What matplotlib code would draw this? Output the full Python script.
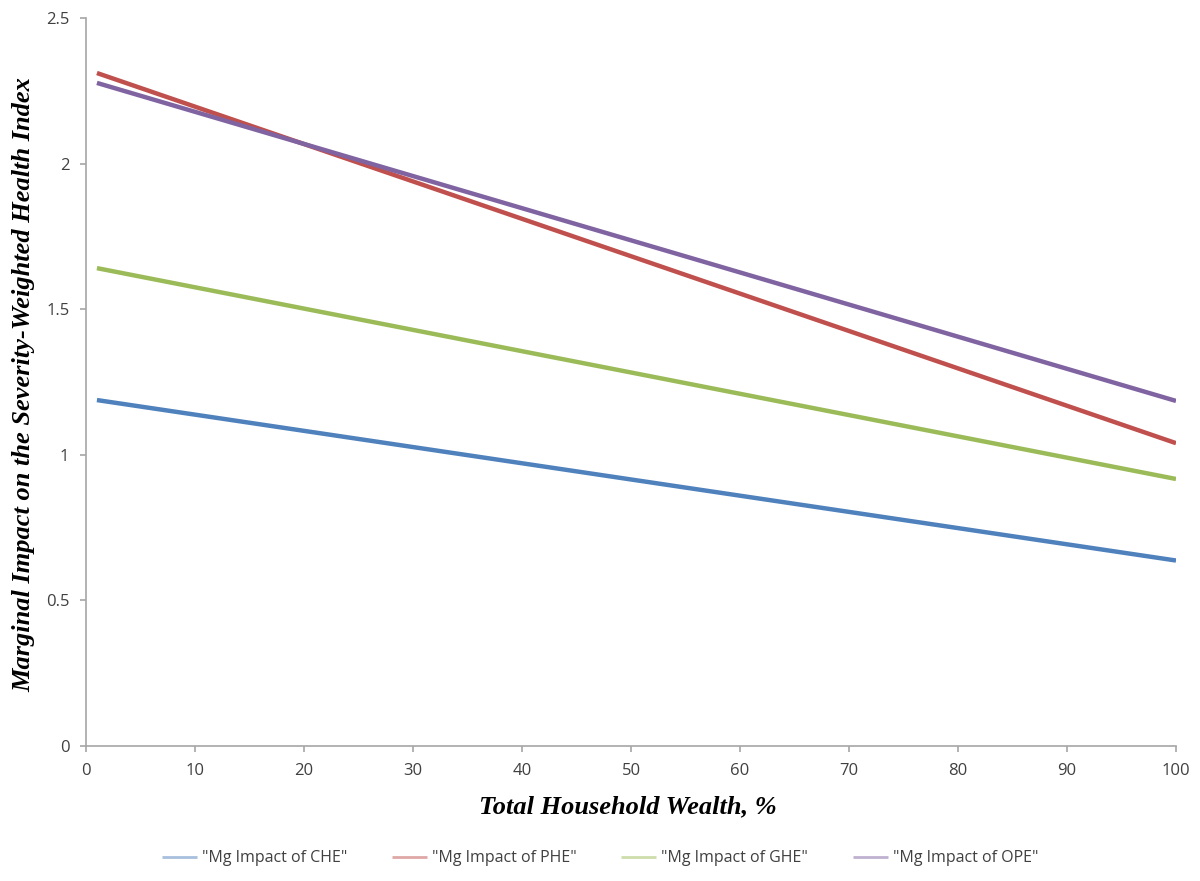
import matplotlib
matplotlib.use("Agg")
import matplotlib.pyplot as plt

# wealth percentiles (lines are straight, so endpoints are enough)
wealth = [1, 100]
che = [1.188, 0.637]
phe = [2.311, 1.040]
ghe = [1.641, 0.917]
ope = [2.277, 1.185]

labels = ['"Mg Impact of CHE"', '"Mg Impact of PHE"', '"Mg Impact of GHE"', '"Mg Impact of OPE"']
colors = ['#4F81BD', '#C0504D', '#9BBB59', '#8064A2']

fig = plt.figure(figsize=(12, 8.81), dpi=100)
ax = fig.add_axes([0.0717, 0.1532, 0.9083, 0.8264])

for ys, lab, c in zip([che, phe, ghe, ope], labels, colors):
    ax.plot(wealth, ys, color=c, lw=3.2, label=lab, solid_capstyle='butt')

ax.set_xlim(0, 100)
ax.set_ylim(0, 2.5)
ax.set_xticks(range(0, 101, 10))
ax.set_yticks([0, 0.5, 1, 1.5, 2, 2.5])
ax.set_yticklabels(['0', '0.5', '1', '1.5', '2', '2.5'])

for s in ['top', 'right']:
    ax.spines[s].set_visible(False)
for s in ['left', 'bottom']:
    ax.spines[s].set_color('#a6a6a6')
    ax.spines[s].set_linewidth(1.2)
ax.tick_params(colors='#a6a6a6', length=4, width=1.2, labelcolor='#404040', labelsize=12, pad=8)
for t in ax.get_xticklabels() + ax.get_yticklabels():
    t.set_family('Open Sans')

ax.set_xlabel('Total Household Wealth, %', family='Liberation Serif', fontsize=19,
              fontweight='bold', style='italic', va='center')
ax.set_ylabel('Marginal Impact on the Severity-Weighted Health Index', family='Liberation Serif',
              fontsize=19, fontweight='bold', style='italic', va='center')
ax.xaxis.set_label_coords(0.497, -0.083)
ax.yaxis.set_label_coords(-0.057, 0.497)

leg = fig.legend(loc='center', bbox_to_anchor=(0.5, 0.026), ncol=4, frameon=False,
                 prop={'family': 'Open Sans', 'size': 11.5}, handlelength=2.2,
                 handletextpad=0.3, columnspacing=2.8)
for h in leg.get_lines():
    h.set_linewidth(2)
    h.set_alpha(0.5)
for t in leg.get_texts():
    t.set_color('#404040')

fig.savefig('out.png', dpi=100)
